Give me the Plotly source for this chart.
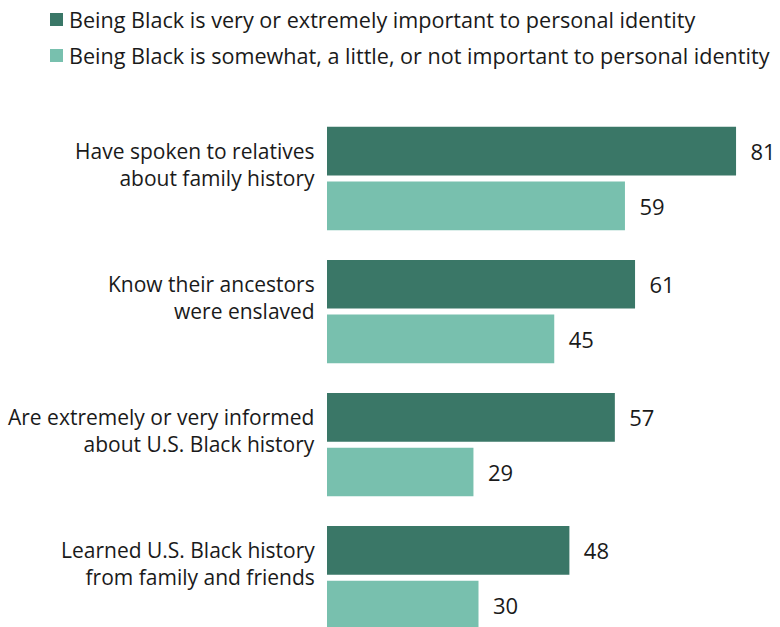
import plotly.graph_objects as go

categories = [
    "Have spoken to relatives<br>about family history",
    "Know their ancestors<br>were enslaved",
    "Are extremely or very informed<br>about U.S. Black history",
    "Learned U.S. Black history<br>from family and friends",
]
very_important = [81, 61, 57, 48]
less_important = [59, 45, 29, 30]
series_names = [
    "Being Black is very or extremely important to personal identity",
    "Being Black is somewhat, a little, or not important to personal identity",
]
colors = ["#3a7767", "#78c0ae"]

W, H = 780, 627
ML, MR, MT, MB = 327, 0, 112, 0
FONT = "Open Sans"
TXT = "#1a1a1a"

fig = go.Figure()
for name, vals, col in zip(series_names, [very_important, less_important], colors):
    fig.add_trace(go.Bar(
        y=categories, x=vals, orientation="h", name=name,
        marker=dict(color=col, line=dict(width=0)),
        text=vals, texttemplate="\u00a0\u00a0%{x}", textposition="outside",
        outsidetextfont=dict(family=FONT, size=22, color=TXT),
        constraintext="none", cliponaxis=False, showlegend=False,
        hoverinfo="skip",
    ))

plot_w = W - ML - MR
plot_h = H - MT - MB
def px_x(p):
    return (p - ML) / plot_w
def px_y(p):
    return (H - MB - p) / plot_h

annotations = []
# category labels
for c in categories:
    annotations.append(dict(
        xref="paper", yref="y", x=0, y=c, xanchor="right", yanchor="middle",
        xshift=-10, yshift=14, text=c, showarrow=False, align="right",
        font=dict(family=FONT, size=21, color=TXT),
    ))
# legend
for i, (name, col) in enumerate(zip(series_names, colors)):
    yc = 20 + 36 * i
    annotations.append(dict(
        xref="paper", yref="paper", x=px_x(50), y=px_y(yc),
        xanchor="left", yanchor="middle", text=" ", showarrow=False,
        width=13, height=13, bgcolor=col, borderpad=0, borderwidth=0,
        font=dict(size=8),
    ))
    annotations.append(dict(
        xref="paper", yref="paper", x=px_x(67), y=px_y(yc),
        xanchor="left", yanchor="middle", text=name, showarrow=False,
        font=dict(family=FONT, size=21.6, color=TXT),
    ))

fig.update_layout(
    width=W, height=H,
    margin=dict(l=ML, r=MR, t=MT, b=MB, pad=0, autoexpand=False),
    paper_bgcolor="white", plot_bgcolor="white",
    barmode="group", bargap=0.178, bargroupgap=0.11,
    xaxis=dict(range=[0, plot_w / 5.05], visible=False, fixedrange=True),
    yaxis=dict(type="category", categoryorder="array", categoryarray=categories,
               range=[3.37, -0.5], visible=False, fixedrange=True),
    annotations=annotations,
    font=dict(family=FONT, color=TXT),
)

fig.write_html(
    "out.html",
    config={"displayModeBar": False},
    post_script="document.body.style.margin='0';document.body.style.overflow='hidden';",
)
